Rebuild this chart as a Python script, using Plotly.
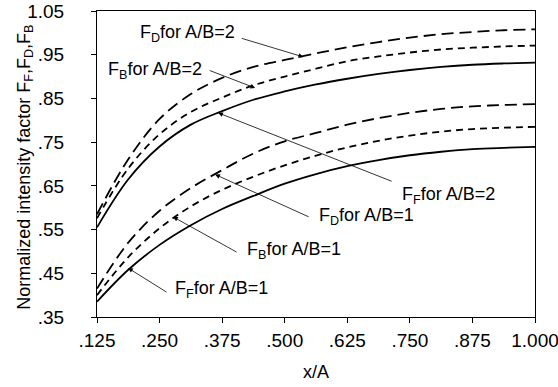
import plotly.graph_objects as go

x_vals = [0.125, 0.1875, 0.25, 0.3125, 0.375, 0.4375, 0.5, 0.5625, 0.625, 0.6875, 0.75, 0.8125, 0.875, 0.9375, 1.0]

ff_ab2 = [0.555, 0.665, 0.740, 0.790, 0.821, 0.847, 0.866, 0.882, 0.895, 0.906, 0.915, 0.922, 0.927, 0.930, 0.932]
fb_ab2 = [0.576, 0.690, 0.768, 0.819, 0.852, 0.880, 0.900, 0.918, 0.935, 0.946, 0.955, 0.962, 0.966, 0.969, 0.971]
fd_ab2 = [0.585, 0.711, 0.803, 0.860, 0.897, 0.922, 0.938, 0.953, 0.967, 0.979, 0.989, 0.997, 1.002, 1.006, 1.008]

ff_ab1 = [0.385, 0.458, 0.515, 0.560, 0.597, 0.627, 0.655, 0.677, 0.695, 0.709, 0.720, 0.728, 0.734, 0.737, 0.739]
fb_ab1 = [0.400, 0.487, 0.553, 0.603, 0.641, 0.671, 0.697, 0.719, 0.738, 0.753, 0.765, 0.774, 0.780, 0.783, 0.785]
fd_ab1 = [0.415, 0.520, 0.593, 0.645, 0.686, 0.724, 0.752, 0.771, 0.790, 0.805, 0.817, 0.826, 0.832, 0.835, 0.837]

x_ticks = [0.125, 0.25, 0.375, 0.5, 0.625, 0.75, 0.875, 1.0]
x_ticktext = [".125", ".250", ".375", ".500", ".625", ".750", ".875", "1.000"]
y_ticks = [0.35, 0.45, 0.55, 0.65, 0.75, 0.85, 0.95, 1.05]
y_ticktext = [".35", ".45", ".55", ".65", ".75", ".85", ".95", "1.05"]

# labels: text, arrow tip (data), tail offset (px), text position (data, left anchored)
labels = [
    ("F<sub>D</sub>for A/B=2", 0.537, 0.945, -63, -19, 0.207, 0.999),
    ("F<sub>B</sub>for A/B=2", 0.441, 0.874, -47, -18, 0.143, 0.915),
    ("F<sub>F</sub>for A/B=2", 0.367, 0.817, 175, 69, 0.730, 0.627),
    ("F<sub>D</sub>for A/B=1", 0.361, 0.676, 95, 43, 0.564, 0.579),
    ("F<sub>B</sub>for A/B=1", 0.277, 0.579, 65, 36, 0.421, 0.503),
    ("F<sub>F</sub>for A/B=1", 0.187, 0.462, 40, 25, 0.277, 0.414),
]

FONT = "Liberation Sans, Arial, sans-serif"

fig = go.Figure()
series = [
    (fd_ab2, "12px,6px"), (fb_ab2, "7px,5px"), (ff_ab2, "solid"),
    (fd_ab1, "12px,6px"), (fb_ab1, "7px,5px"), (ff_ab1, "solid"),
]
for ys, dash in series:
    fig.add_trace(go.Scatter(x=x_vals, y=ys, mode="lines",
                             line=dict(color="black", width=1.8, dash=dash, shape="spline"),
                             showlegend=False, hoverinfo="skip"))

ann = []
for text, tx, ty, ax, ay, lx, ly in labels:
    ann.append(dict(x=tx, y=ty, xref="x", yref="y", ax=ax, ay=ay, axref="pixel", ayref="pixel",
                    text="", showarrow=True, arrowhead=2, arrowsize=1.2, arrowwidth=0.8,
                    arrowcolor="black", standoff=0))
    ann.append(dict(x=lx, y=ly, xref="x", yref="y", text=text, showarrow=False,
                    xanchor="left", yanchor="middle", font=dict(family=FONT, size=18, color="black")))

ann.append(dict(x=-0.165, y=0.49, xref="paper", yref="paper", textangle=-90,
                text="Normalized intensity factor F<sub>F</sub>,F<sub>D</sub>,F<sub>B</sub>",
                showarrow=False, xanchor="center", yanchor="middle",
                font=dict(family=FONT, size=18, color="black")))
ann.append(dict(x=0.5, y=-0.18, xref="paper", yref="paper", text="x/A", showarrow=False,
                xanchor="center", yanchor="middle", font=dict(family=FONT, size=18, color="black")))

fig.update_layout(
    width=558, height=387,
    margin=dict(l=97, r=23, t=11, b=70),
    paper_bgcolor="white", plot_bgcolor="white",
    font=dict(family=FONT, size=19, color="black"),
    annotations=ann,
    xaxis=dict(range=[0.125, 1.0], tickvals=x_ticks, ticktext=x_ticktext, showgrid=False,
               zeroline=False, showline=True, linecolor="black", linewidth=1, mirror=True,
               ticks="outside", ticklen=5, tickcolor="black", tickwidth=1,
               automargin=False, ticklabelstandoff=1, ticklabeloverflow="allow"),
    yaxis=dict(range=[0.35, 1.05], tickvals=y_ticks, ticktext=y_ticktext, showgrid=False,
               zeroline=False, showline=True, linecolor="black", linewidth=1, mirror=True,
               ticks="outside", ticklen=5, tickcolor="black", tickwidth=1,
               automargin=False, ticklabelstandoff=23, ticklabeloverflow="allow"),
)

fig.write_html("out.html", config={"displayModeBar": False},
               post_script="document.body.style.margin='0';document.body.style.overflow='hidden';")
